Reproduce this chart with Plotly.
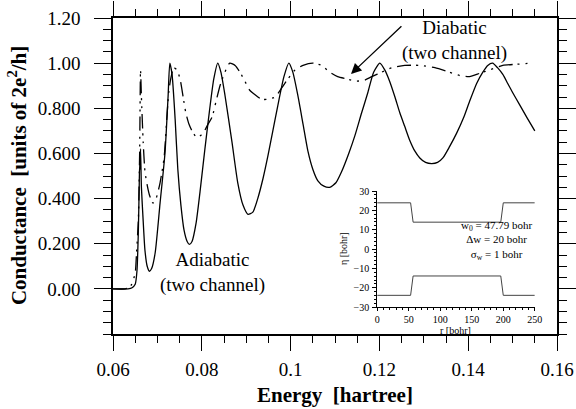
import plotly.graph_objects as go

# ---------------- data ----------------
adia_E = [0.0600, 0.0634, 0.0643, 0.0650, 0.0654, 0.0657, 0.0659, 0.0660, 0.0661, 0.0662,
          0.0664, 0.0668, 0.0672, 0.0677, 0.0682, 0.0687, 0.0695, 0.0706, 0.0717, 0.0724,
          0.0728, 0.0733, 0.0740, 0.0746, 0.0753, 0.0760, 0.0767, 0.0772, 0.0778, 0.0787,
          0.0796, 0.0807, 0.0818, 0.0827, 0.0836, 0.0843, 0.0852, 0.0868, 0.0881, 0.0893,
          0.0904, 0.0915, 0.0926, 0.0938, 0.0949, 0.0960, 0.0971, 0.0985, 0.0996, 0.1005,
          0.1016, 0.1028, 0.1039, 0.1050, 0.1061, 0.1075, 0.1088, 0.1102, 0.1115, 0.1131,
          0.1145, 0.1160, 0.1174, 0.1187, 0.1201, 0.1212, 0.1223, 0.1235, 0.1246, 0.1257,
          0.1268, 0.1280, 0.1291, 0.1304, 0.1318, 0.1331, 0.1343, 0.1358, 0.1374, 0.1390,
          0.1403, 0.1419, 0.1433, 0.1444, 0.1455, 0.1466, 0.1478, 0.1489, 0.1500, 0.1516,
          0.1532, 0.1550]
adia_G = [0.0, 0.0, 0.005, 0.02, 0.08, 0.25, 0.45, 0.55, 0.53, 0.62,
          0.45, 0.30, 0.17, 0.10, 0.078, 0.09, 0.16, 0.38, 0.60, 0.85,
          1.0, 0.95, 0.75, 0.53, 0.37, 0.26, 0.21, 0.197, 0.21, 0.29,
          0.43, 0.62, 0.80, 0.93, 1.0, 0.96, 0.86, 0.65, 0.47, 0.37,
          0.33, 0.34, 0.40, 0.49, 0.59, 0.70, 0.81, 0.94, 1.0, 0.96,
          0.86, 0.73, 0.61, 0.53, 0.48, 0.455, 0.45, 0.47, 0.52, 0.60,
          0.68, 0.78, 0.87, 0.96, 1.0, 0.97, 0.92, 0.85, 0.78, 0.72,
          0.66, 0.61, 0.58, 0.56, 0.555, 0.56, 0.58, 0.63, 0.69, 0.76,
          0.83, 0.91, 0.96, 0.99, 1.0, 0.98, 0.95, 0.91, 0.87, 0.815,
          0.76, 0.70]

dia_E = [0.0600, 0.0627, 0.0636, 0.0642, 0.0650, 0.0653, 0.0657, 0.0660, 0.0662, 0.0664,
         0.0668, 0.0672, 0.0677, 0.0683, 0.0690, 0.0697, 0.0706, 0.0715, 0.0722, 0.0726,
         0.0731, 0.0737, 0.0744, 0.0751, 0.0758, 0.0764, 0.0771, 0.0778, 0.0789, 0.0803,
         0.0814, 0.0823, 0.0832, 0.0841, 0.0852, 0.0863, 0.0875, 0.0886, 0.0897, 0.0908,
         0.0920, 0.0935, 0.0949, 0.0965, 0.0980, 0.0994, 0.1010, 0.1028, 0.1050, 0.1070,
         0.1088, 0.1106, 0.1127, 0.1147, 0.1167, 0.1183, 0.1205, 0.1228, 0.1257, 0.1291,
         0.1325, 0.1358, 0.1381, 0.1403, 0.1426, 0.1448, 0.1478, 0.1509, 0.1543]
dia_G = [0.0, 0.0, 0.005, 0.02, 0.07, 0.16, 0.30, 0.60, 0.97, 0.85,
         0.65, 0.52, 0.46, 0.41, 0.38, 0.40, 0.47, 0.58, 0.78, 0.88,
         0.94, 0.98, 0.97, 0.93, 0.85, 0.78, 0.73, 0.70, 0.67, 0.69,
         0.73, 0.76, 0.83, 0.90, 0.96, 1.0, 0.99, 0.96, 0.92, 0.88,
         0.86, 0.84, 0.84, 0.85, 0.89, 0.93, 0.97, 0.99, 1.0, 0.99,
         0.96, 0.94, 0.93, 0.92, 0.925, 0.94, 0.96, 0.98, 0.99, 0.99,
         0.98, 0.96, 0.945, 0.94, 0.955, 0.97, 0.99, 0.995, 1.0]

x_ticks = [0.06, 0.08, 0.10, 0.12, 0.14, 0.16]
y_tickvals = [0.0, 0.2, 0.4, 0.6, 0.8, 1.0, 1.2]
y_ticktext = ["0.00", "0.200", "0.400", "0.600", "0.800", "1.00", "1.20"]

# inset: channel profile
inset_r = [0, 53, 57, 196, 200, 250]
inset_upper = [23.9, 23.9, 13.9, 13.9, 23.9, 23.9]
inset_lower = [-23.9, -23.9, -13.9, -13.9, -23.9, -23.9]
inset_xticks = [0, 50, 100, 150, 200, 250]
inset_yticks = [-30, -20, -10, 0, 10, 20, 30]

SERIF = "Liberation Serif, Times New Roman, serif"

fig = go.Figure()
fig.add_trace(go.Scatter(x=adia_E, y=adia_G, mode="lines",
                         line=dict(color="black", width=1.3, shape="spline", smoothing=0.6),
                         showlegend=False))
fig.add_trace(go.Scatter(x=dia_E, y=dia_G, mode="lines",
                         line=dict(color="black", width=1.3, shape="spline", smoothing=0.6,
                                   dash="14px,5px,2px,6px,2px,6px"),
                         showlegend=False))
fig.add_trace(go.Scatter(x=inset_r, y=inset_upper, mode="lines", xaxis="x2", yaxis="y2",
                         line=dict(color="#444", width=1), showlegend=False))
fig.add_trace(go.Scatter(x=inset_r, y=inset_lower, mode="lines", xaxis="x2", yaxis="y2",
                         line=dict(color="#444", width=1), showlegend=False))

axis_common = dict(showline=True, linecolor="black", linewidth=1.5, mirror="allticks",
                   ticks="outside", tickcolor="black", tickwidth=1.2, showgrid=False,
                   zeroline=False, automargin=False,
                   tickfont=dict(family=SERIF, size=19, color="black"))

fig.update_layout(
    width=576, height=409,
    margin=dict(l=113, r=19, t=18, b=75, autoexpand=False),
    paper_bgcolor="white", plot_bgcolor="white",
    xaxis=dict(range=[0.06, 0.16], tickvals=x_ticks, ticklen=15,
               minor=dict(tickmode="linear", tick0=0.06, dtick=0.005, ticklen=7,
                          ticks="outside", tickcolor="black", tickwidth=1.2),
               ticklabelstandoff=2, **axis_common),
    yaxis=dict(range=[-0.2, 1.2], tickvals=y_tickvals, ticktext=y_ticktext, ticklen=17,
               minor=dict(tickmode="linear", tick0=0, dtick=0.05, ticklen=8,
                          ticks="outside", tickcolor="black", tickwidth=1.2),
               ticklabelstandoff=10, **axis_common),
    xaxis2=dict(domain=[0.595, 0.95], anchor="y2", range=[0, 250], tickvals=inset_xticks,
                showline=True, linecolor="black", linewidth=1, ticks="outside", ticklen=3,
                tickcolor="black", showgrid=False, zeroline=False, automargin=False,
                minor=dict(tickmode="linear", tick0=0, dtick=10, ticklen=2, ticks="outside",
                           tickcolor="black"),
                tickfont=dict(family=SERIF, size=10, color="black"), ticklabelstandoff=0),
    yaxis2=dict(domain=[0.085, 0.4525], anchor="x2", range=[-30, 30], tickvals=inset_yticks,
                showline=True, linecolor="black", linewidth=1, ticks="outside", ticklen=4,
                tickcolor="black", showgrid=False, zeroline=False, automargin=False,
                minor=dict(tickmode="linear", tick0=0, dtick=2, ticklen=2.5, ticks="outside",
                           tickcolor="black"),
                tickfont=dict(family=SERIF, size=10, color="black"), ticklabelstandoff=1),
)

annots = [
    dict(text="<b>Conductance  [units of 2e<sup>2</sup>/h]</b>", xref="paper", yref="paper",
         x=-0.216, y=0.5, textangle=-90, showarrow=False,
         font=dict(family=SERIF, size=21, color="black"), xanchor="center", yanchor="middle"),
    dict(text="<b>Energy  [hartree]</b>", xref="paper", yref="paper", x=0.5, y=-0.192,
         showarrow=False, font=dict(family=SERIF, size=21, color="black"),
         xanchor="center", yanchor="middle"),
    dict(text="Diabatic<br>(two channel)", x=0.1370, y=1.10, xref="x", yref="y",
         showarrow=False, font=dict(family=SERIF, size=19, color="black"), align="center"),
    dict(text="Adiabatic<br>(two channel)", x=0.0823, y=0.073, xref="x", yref="y",
         showarrow=False, font=dict(family=SERIF, size=19, color="black"), align="center"),
    dict(text="", x=0.1136, y=0.952, ax=0.1253, ay=1.17, xref="x", yref="y",
         axref="x", ayref="y", showarrow=True, arrowhead=2, arrowsize=1.6, arrowwidth=1.3,
         arrowcolor="black"),
    dict(text="w<sub>0</sub> = 47.79 bohr<br>\u0394w = 20 bohr<br>\u03c3<sub>w</sub> = 1 bohr",
         x=190, y=4.5, xref="x2", yref="y2", showarrow=False, align="center",
         font=dict(family=SERIF, size=11, color="black")),
    dict(text="r [bohr]", xref="x2", yref="paper", x=125, y=(334 - 330) / 316,
         showarrow=False, font=dict(family=SERIF, size=10, color="black"), yanchor="middle"),
    dict(text="\u03b7 [bohr]", xref="paper", yref="y2", x=(343 - 113) / 444, y=0,
         textangle=-90, showarrow=False, font=dict(family=SERIF, size=10, color="black"),
         xanchor="center", yanchor="middle"),
]
fig.update_layout(annotations=annots)

fig.write_html("out.html")
